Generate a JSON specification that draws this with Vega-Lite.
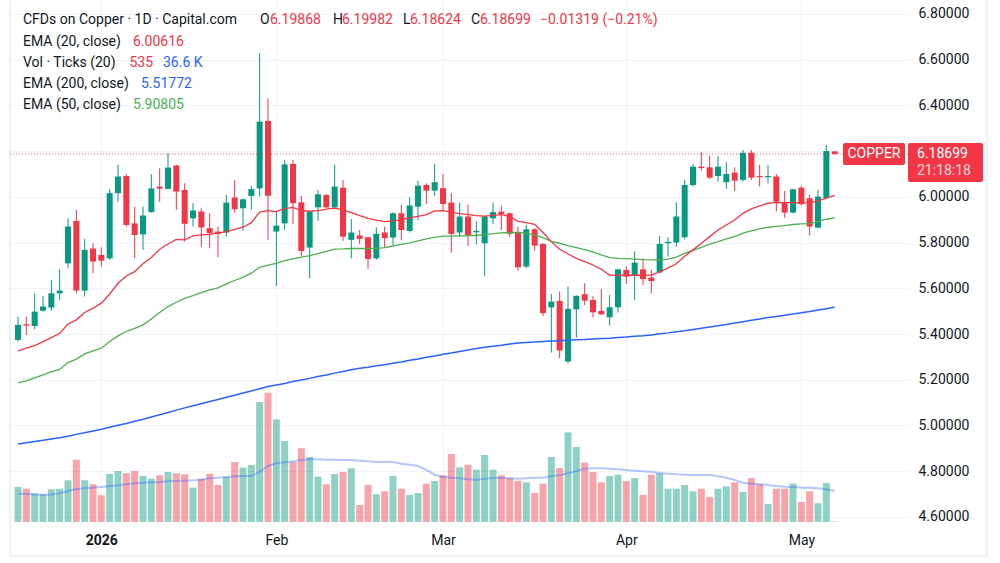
{
  "$schema": "https://vega.github.io/schema/vega-lite/v6.json",
  "width": 898,
  "height": 524,
  "autosize": "none",
  "padding": {"left": 10, "top": 0, "right": 92, "bottom": 39},
  "background": "#ffffff",
  "config": {"font": "Roboto", "view": {"stroke": null}},
  "datasets": {
    "candles": [
      {"i":0,"date":"2025-12-17","o":5.374,"h":5.476,"l":5.367,"c":5.440,"v":41300,"vm":33400,"e20":5.326,"e50":5.186,"e200":4.919},
      {"i":1,"date":"2025-12-18","o":5.443,"h":5.476,"l":5.396,"c":5.437,"v":39300,"vm":33000,"e20":5.338,"e50":5.195,"e200":4.924},
      {"i":2,"date":"2025-12-19","o":5.435,"h":5.578,"l":5.421,"c":5.498,"v":33900,"vm":32300,"e20":5.349,"e50":5.208,"e200":4.930},
      {"i":3,"date":"2025-12-22","o":5.502,"h":5.567,"l":5.498,"c":5.520,"v":32700,"vm":31900,"e20":5.367,"e50":5.221,"e200":4.935},
      {"i":4,"date":"2025-12-23","o":5.516,"h":5.637,"l":5.502,"c":5.578,"v":38600,"vm":32300,"e20":5.384,"e50":5.234,"e200":4.941},
      {"i":5,"date":"2025-12-24","o":5.578,"h":5.683,"l":5.549,"c":5.590,"v":39300,"vm":33800,"e20":5.403,"e50":5.245,"e200":4.946},
      {"i":6,"date":"2025-12-26","o":5.709,"h":5.906,"l":5.688,"c":5.870,"v":49200,"vm":36600,"e20":5.444,"e50":5.275,"e200":4.953},
      {"i":7,"date":"2025-12-29","o":5.895,"h":5.943,"l":5.578,"c":5.590,"v":73500,"vm":38900,"e20":5.462,"e50":5.290,"e200":4.961},
      {"i":8,"date":"2025-12-30","o":5.590,"h":5.816,"l":5.564,"c":5.768,"v":49200,"vm":39700,"e20":5.494,"e50":5.313,"e200":4.968},
      {"i":9,"date":"2025-12-31","o":5.774,"h":5.797,"l":5.666,"c":5.717,"v":44500,"vm":40500,"e20":5.513,"e50":5.326,"e200":4.976},
      {"i":10,"date":"2026-01-02","o":5.746,"h":5.779,"l":5.695,"c":5.721,"v":31500,"vm":41300,"e20":5.535,"e50":5.338,"e200":4.983},
      {"i":11,"date":"2026-01-05","o":5.731,"h":6.033,"l":5.724,"c":6.016,"v":56600,"vm":42500,"e20":5.575,"e50":5.367,"e200":4.992},
      {"i":12,"date":"2026-01-06","o":6.016,"h":6.140,"l":5.979,"c":6.089,"v":60200,"vm":43300,"e20":5.622,"e50":5.392,"e200":5.001},
      {"i":13,"date":"2026-01-07","o":6.091,"h":6.099,"l":5.870,"c":5.877,"v":57500,"vm":44400,"e20":5.654,"e50":5.411,"e200":5.009},
      {"i":14,"date":"2026-01-08","o":5.884,"h":5.957,"l":5.731,"c":5.833,"v":60200,"vm":45600,"e20":5.673,"e50":5.425,"e200":5.018},
      {"i":15,"date":"2026-01-09","o":5.836,"h":5.957,"l":5.768,"c":5.918,"v":54300,"vm":46400,"e20":5.707,"e50":5.440,"e200":5.027},
      {"i":16,"date":"2026-01-12","o":5.933,"h":6.099,"l":5.931,"c":6.037,"v":51100,"vm":46800,"e20":5.735,"e50":5.466,"e200":5.037},
      {"i":17,"date":"2026-01-13","o":6.045,"h":6.125,"l":5.979,"c":6.036,"v":55100,"vm":47200,"e20":5.771,"e50":5.494,"e200":5.047},
      {"i":18,"date":"2026-01-14","o":6.035,"h":6.191,"l":6.033,"c":6.128,"v":59000,"vm":48000,"e20":5.794,"e50":5.520,"e200":5.057},
      {"i":19,"date":"2026-01-15","o":6.137,"h":6.140,"l":5.943,"c":6.023,"v":57500,"vm":48400,"e20":5.814,"e50":5.539,"e200":5.067},
      {"i":20,"date":"2026-01-16","o":6.030,"h":6.059,"l":5.804,"c":5.882,"v":56300,"vm":48800,"e20":5.812,"e50":5.556,"e200":5.077},
      {"i":21,"date":"2026-01-19","o":5.906,"h":5.972,"l":5.870,"c":5.940,"v":40500,"vm":49200,"e20":5.829,"e50":5.568,"e200":5.086},
      {"i":22,"date":"2026-01-20","o":5.936,"h":5.950,"l":5.782,"c":5.866,"v":51100,"vm":49900,"e20":5.834,"e50":5.581,"e200":5.095},
      {"i":23,"date":"2026-01-21","o":5.863,"h":5.928,"l":5.775,"c":5.841,"v":57000,"vm":51500,"e20":5.836,"e50":5.593,"e200":5.105},
      {"i":24,"date":"2026-01-22","o":5.848,"h":5.870,"l":5.736,"c":5.838,"v":43700,"vm":52300,"e20":5.841,"e50":5.602,"e200":5.114},
      {"i":25,"date":"2026-01-23","o":5.844,"h":6.008,"l":5.826,"c":5.975,"v":53100,"vm":53100,"e20":5.848,"e50":5.619,"e200":5.123},
      {"i":26,"date":"2026-01-26","o":5.997,"h":6.074,"l":5.931,"c":5.946,"v":70800,"vm":53900,"e20":5.858,"e50":5.634,"e200":5.132},
      {"i":27,"date":"2026-01-27","o":5.950,"h":5.994,"l":5.852,"c":5.989,"v":64100,"vm":54300,"e20":5.867,"e50":5.648,"e200":5.142},
      {"i":28,"date":"2026-01-28","o":6.004,"h":6.048,"l":5.943,"c":6.034,"v":67300,"vm":54300,"e20":5.887,"e50":5.666,"e200":5.151},
      {"i":29,"date":"2026-01-29","o":6.037,"h":6.628,"l":6.001,"c":6.329,"v":141600,"vm":59000,"e20":5.933,"e50":5.692,"e200":5.161},
      {"i":30,"date":"2026-01-30","o":6.332,"h":6.431,"l":5.812,"c":6.005,"v":152600,"vm":66100,"e20":5.940,"e50":5.701,"e200":5.170},
      {"i":31,"date":"2026-02-02","o":5.848,"h":5.936,"l":5.610,"c":5.874,"v":121200,"vm":69200,"e20":5.935,"e50":5.709,"e200":5.177},
      {"i":32,"date":"2026-02-03","o":5.884,"h":6.161,"l":5.855,"c":6.142,"v":95600,"vm":70400,"e20":5.948,"e50":5.721,"e200":5.184},
      {"i":33,"date":"2026-02-04","o":6.144,"h":6.161,"l":5.881,"c":5.972,"v":70800,"vm":71600,"e20":5.954,"e50":5.729,"e200":5.192},
      {"i":34,"date":"2026-02-05","o":5.976,"h":6.004,"l":5.742,"c":5.763,"v":87000,"vm":73200,"e20":5.940,"e50":5.736,"e200":5.199},
      {"i":35,"date":"2026-02-06","o":5.778,"h":5.938,"l":5.644,"c":5.935,"v":76700,"vm":73900,"e20":5.937,"e50":5.743,"e200":5.206},
      {"i":36,"date":"2026-02-09","o":5.954,"h":6.030,"l":5.895,"c":6.011,"v":53500,"vm":73900,"e20":5.940,"e50":5.752,"e200":5.214},
      {"i":37,"date":"2026-02-10","o":6.008,"h":6.013,"l":5.950,"c":5.954,"v":44500,"vm":73500,"e20":5.946,"e50":5.761,"e200":5.221},
      {"i":38,"date":"2026-02-11","o":5.954,"h":6.140,"l":5.946,"c":6.045,"v":56600,"vm":73500,"e20":5.951,"e50":5.771,"e200":5.229},
      {"i":39,"date":"2026-02-12","o":6.040,"h":6.074,"l":5.807,"c":5.826,"v":59000,"vm":73200,"e20":5.943,"e50":5.772,"e200":5.236},
      {"i":40,"date":"2026-02-13","o":5.812,"h":5.903,"l":5.731,"c":5.844,"v":63400,"vm":73200,"e20":5.931,"e50":5.774,"e200":5.244},
      {"i":41,"date":"2026-02-16","o":5.831,"h":5.855,"l":5.794,"c":5.816,"v":20100,"vm":72400,"e20":5.918,"e50":5.774,"e200":5.250},
      {"i":42,"date":"2026-02-17","o":5.823,"h":5.826,"l":5.685,"c":5.728,"v":43700,"vm":71600,"e20":5.906,"e50":5.774,"e200":5.255},
      {"i":43,"date":"2026-02-18","o":5.731,"h":5.867,"l":5.724,"c":5.838,"v":32700,"vm":70800,"e20":5.898,"e50":5.775,"e200":5.261},
      {"i":44,"date":"2026-02-19","o":5.844,"h":5.870,"l":5.779,"c":5.819,"v":36200,"vm":70800,"e20":5.892,"e50":5.778,"e200":5.266},
      {"i":45,"date":"2026-02-20","o":5.822,"h":5.933,"l":5.790,"c":5.928,"v":54300,"vm":70800,"e20":5.895,"e50":5.785,"e200":5.272},
      {"i":46,"date":"2026-02-23","o":5.928,"h":5.965,"l":5.812,"c":5.855,"v":39300,"vm":68800,"e20":5.899,"e50":5.792,"e200":5.278},
      {"i":47,"date":"2026-02-24","o":5.851,"h":5.998,"l":5.844,"c":5.962,"v":31900,"vm":67600,"e20":5.908,"e50":5.799,"e200":5.285},
      {"i":48,"date":"2026-02-25","o":5.957,"h":6.070,"l":5.899,"c":6.049,"v":34200,"vm":66100,"e20":5.915,"e50":5.807,"e200":5.291},
      {"i":49,"date":"2026-02-26","o":6.052,"h":6.059,"l":5.969,"c":6.027,"v":45200,"vm":61400,"e20":5.922,"e50":5.816,"e200":5.298},
      {"i":50,"date":"2026-02-27","o":6.027,"h":6.144,"l":6.004,"c":6.064,"v":48400,"vm":55800,"e20":5.938,"e50":5.823,"e200":5.304},
      {"i":51,"date":"2026-03-02","o":6.038,"h":6.100,"l":5.936,"c":5.969,"v":55100,"vm":53100,"e20":5.940,"e50":5.828,"e200":5.311},
      {"i":52,"date":"2026-03-03","o":5.975,"h":6.016,"l":5.756,"c":5.838,"v":80200,"vm":52300,"e20":5.933,"e50":5.828,"e200":5.317},
      {"i":53,"date":"2026-03-04","o":5.844,"h":5.975,"l":5.826,"c":5.914,"v":64500,"vm":51500,"e20":5.927,"e50":5.829,"e200":5.324},
      {"i":54,"date":"2026-03-05","o":5.914,"h":5.965,"l":5.785,"c":5.833,"v":67600,"vm":50300,"e20":5.922,"e50":5.829,"e200":5.330},
      {"i":55,"date":"2026-03-06","o":5.845,"h":5.892,"l":5.792,"c":5.851,"v":61700,"vm":49900,"e20":5.918,"e50":5.832,"e200":5.337},
      {"i":56,"date":"2026-03-09","o":5.797,"h":5.916,"l":5.654,"c":5.914,"v":79100,"vm":51100,"e20":5.916,"e50":5.835,"e200":5.342},
      {"i":57,"date":"2026-03-10","o":5.906,"h":5.975,"l":5.880,"c":5.933,"v":61700,"vm":51900,"e20":5.919,"e50":5.839,"e200":5.347},
      {"i":58,"date":"2026-03-11","o":5.935,"h":5.962,"l":5.855,"c":5.925,"v":55100,"vm":51900,"e20":5.922,"e50":5.842,"e200":5.351},
      {"i":59,"date":"2026-03-12","o":5.928,"h":5.931,"l":5.826,"c":5.838,"v":51900,"vm":51500,"e20":5.914,"e50":5.844,"e200":5.356},
      {"i":60,"date":"2026-03-13","o":5.845,"h":5.870,"l":5.677,"c":5.692,"v":48400,"vm":51100,"e20":5.893,"e50":5.844,"e200":5.361},
      {"i":61,"date":"2026-03-16","o":5.695,"h":5.877,"l":5.688,"c":5.858,"v":46800,"vm":51500,"e20":5.887,"e50":5.841,"e200":5.363},
      {"i":62,"date":"2026-03-17","o":5.858,"h":5.863,"l":5.765,"c":5.787,"v":34200,"vm":52300,"e20":5.880,"e50":5.833,"e200":5.365},
      {"i":63,"date":"2026-03-18","o":5.794,"h":5.797,"l":5.479,"c":5.491,"v":45200,"vm":52300,"e20":5.844,"e50":5.822,"e200":5.367},
      {"i":64,"date":"2026-03-19","o":5.516,"h":5.575,"l":5.319,"c":5.542,"v":76700,"vm":54300,"e20":5.804,"e50":5.805,"e200":5.369},
      {"i":65,"date":"2026-03-20","o":5.545,"h":5.586,"l":5.294,"c":5.328,"v":63700,"vm":55100,"e20":5.771,"e50":5.797,"e200":5.371},
      {"i":66,"date":"2026-03-23","o":5.280,"h":5.607,"l":5.272,"c":5.510,"v":105800,"vm":57400,"e20":5.750,"e50":5.787,"e200":5.373},
      {"i":67,"date":"2026-03-24","o":5.508,"h":5.569,"l":5.384,"c":5.567,"v":88500,"vm":60200,"e20":5.731,"e50":5.778,"e200":5.375},
      {"i":68,"date":"2026-03-25","o":5.574,"h":5.622,"l":5.527,"c":5.546,"v":70000,"vm":62900,"e20":5.717,"e50":5.769,"e200":5.376},
      {"i":69,"date":"2026-03-26","o":5.549,"h":5.567,"l":5.473,"c":5.495,"v":59000,"vm":63300,"e20":5.702,"e50":5.759,"e200":5.378},
      {"i":70,"date":"2026-03-27","o":5.501,"h":5.596,"l":5.484,"c":5.486,"v":46800,"vm":63300,"e20":5.683,"e50":5.746,"e200":5.380},
      {"i":71,"date":"2026-03-30","o":5.473,"h":5.571,"l":5.437,"c":5.517,"v":54300,"vm":62900,"e20":5.658,"e50":5.734,"e200":5.382},
      {"i":72,"date":"2026-03-31","o":5.517,"h":5.685,"l":5.494,"c":5.683,"v":55800,"vm":62100,"e20":5.657,"e50":5.731,"e200":5.385},
      {"i":73,"date":"2026-04-01","o":5.680,"h":5.695,"l":5.619,"c":5.651,"v":48400,"vm":61400,"e20":5.657,"e50":5.730,"e200":5.387},
      {"i":74,"date":"2026-04-02","o":5.654,"h":5.761,"l":5.549,"c":5.712,"v":51900,"vm":60600,"e20":5.658,"e50":5.728,"e200":5.390},
      {"i":75,"date":"2026-04-06","o":5.683,"h":5.731,"l":5.615,"c":5.640,"v":31900,"vm":59800,"e20":5.657,"e50":5.725,"e200":5.392},
      {"i":76,"date":"2026-04-07","o":5.647,"h":5.680,"l":5.578,"c":5.632,"v":55800,"vm":59000,"e20":5.658,"e50":5.724,"e200":5.396},
      {"i":77,"date":"2026-04-08","o":5.669,"h":5.829,"l":5.667,"c":5.794,"v":57500,"vm":57800,"e20":5.672,"e50":5.724,"e200":5.401},
      {"i":78,"date":"2026-04-09","o":5.797,"h":5.823,"l":5.739,"c":5.803,"v":39300,"vm":57000,"e20":5.689,"e50":5.728,"e200":5.405},
      {"i":79,"date":"2026-04-10","o":5.800,"h":5.976,"l":5.782,"c":5.914,"v":39300,"vm":56200,"e20":5.707,"e50":5.736,"e200":5.410},
      {"i":80,"date":"2026-04-13","o":5.823,"h":6.074,"l":5.814,"c":6.052,"v":43700,"vm":55800,"e20":5.740,"e50":5.753,"e200":5.414},
      {"i":81,"date":"2026-04-14","o":6.052,"h":6.144,"l":6.045,"c":6.132,"v":36200,"vm":55500,"e20":5.768,"e50":5.766,"e200":5.420},
      {"i":82,"date":"2026-04-15","o":6.132,"h":6.195,"l":6.115,"c":6.126,"v":39300,"vm":55500,"e20":5.797,"e50":5.779,"e200":5.425},
      {"i":83,"date":"2026-04-16","o":6.129,"h":6.180,"l":6.078,"c":6.084,"v":29500,"vm":55500,"e20":5.826,"e50":5.793,"e200":5.431},
      {"i":84,"date":"2026-04-17","o":6.091,"h":6.179,"l":6.067,"c":6.132,"v":39300,"vm":53900,"e20":5.855,"e50":5.804,"e200":5.436},
      {"i":85,"date":"2026-04-20","o":6.064,"h":6.151,"l":6.035,"c":6.100,"v":42100,"vm":52300,"e20":5.877,"e50":5.816,"e200":5.442},
      {"i":86,"date":"2026-04-21","o":6.106,"h":6.129,"l":6.026,"c":6.071,"v":46800,"vm":49600,"e20":5.899,"e50":5.826,"e200":5.448},
      {"i":87,"date":"2026-04-22","o":6.074,"h":6.205,"l":6.067,"c":6.193,"v":35400,"vm":46400,"e20":5.928,"e50":5.841,"e200":5.454},
      {"i":88,"date":"2026-04-23","o":6.193,"h":6.205,"l":6.074,"c":6.084,"v":51900,"vm":45200,"e20":5.947,"e50":5.851,"e200":5.460},
      {"i":89,"date":"2026-04-24","o":6.091,"h":6.140,"l":6.045,"c":6.086,"v":44500,"vm":44400,"e20":5.960,"e50":5.860,"e200":5.466},
      {"i":90,"date":"2026-04-27","o":6.086,"h":6.140,"l":6.059,"c":6.091,"v":21200,"vm":43700,"e20":5.972,"e50":5.867,"e200":5.472},
      {"i":91,"date":"2026-04-28","o":6.089,"h":6.100,"l":5.936,"c":5.979,"v":39300,"vm":42500,"e20":5.976,"e50":5.871,"e200":5.477},
      {"i":92,"date":"2026-04-29","o":5.976,"h":6.026,"l":5.909,"c":5.931,"v":39300,"vm":41700,"e20":5.975,"e50":5.874,"e200":5.482},
      {"i":93,"date":"2026-04-30","o":5.931,"h":6.035,"l":5.928,"c":6.033,"v":45200,"vm":41300,"e20":5.975,"e50":5.879,"e200":5.488},
      {"i":94,"date":"2026-05-01","o":6.040,"h":6.049,"l":5.962,"c":5.968,"v":23600,"vm":40500,"e20":5.973,"e50":5.882,"e200":5.493},
      {"i":95,"date":"2026-05-04","o":5.994,"h":6.008,"l":5.831,"c":5.870,"v":36200,"vm":40500,"e20":5.975,"e50":5.883,"e200":5.498},
      {"i":96,"date":"2026-05-05","o":5.865,"h":6.030,"l":5.863,"c":6.001,"v":22100,"vm":39700,"e20":5.982,"e50":5.892,"e200":5.505},
      {"i":97,"date":"2026-05-06","o":5.995,"h":6.227,"l":5.992,"c":6.20018,"v":46000,"vm":38500,"e20":5.994,"e50":5.902,"e200":5.511},
      {"i":98,"date":"2026-05-07","o":6.19868,"h":6.19982,"l":6.18624,"c":6.18699,"v":535,"vm":36600,"e20":6.00616,"e50":5.90805,"e200":5.51772}
    ]
  },
  "data": {"name": "candles"},
  "layer": [
    {
      "layer": [
        {
          "mark": {"type": "bar", "width": 7, "fillOpacity": 0.45},
          "encoding": {
            "x": {"field": "i", "type": "quantitative"},
            "y": {"field": "v", "type": "quantitative", "scale": {"domain": [-2400, 616200], "nice": false, "zero": false, "padding": 0}, "axis": null},
            "y2": {"datum": 0},
            "color": {"condition": {"test": "datum.c >= datum.o", "value": "#089981"}, "value": "#F23645"}
          }
        },
        {
          "mark": {"type": "line", "color": "#2962FF", "strokeWidth": 2, "opacity": 0.35},
          "encoding": {
            "x": {"field": "i", "type": "quantitative"},
            "y": {"field": "vm", "type": "quantitative", "axis": null}
          }
        }
      ]
    },
    {
      "layer": [
        {
          "mark": {"type": "rule", "strokeWidth": 1},
          "encoding": {
            "x": {
              "field": "i", "type": "quantitative",
              "scale": {"domain": [-0.96, 106.8], "nice": false, "zero": false, "padding": 0},
              "axis": {
                "values": [10, 31, 51, 73, 94],
                "labelExpr": "datum.value == 10 ? '2026' : datum.value == 31 ? 'Feb' : datum.value == 51 ? 'Mar' : datum.value == 73 ? 'Apr' : 'May'",
                "title": null, "grid": true, "gridColor": "#f0f3fa", "domain": false, "ticks": false,
                "labelFontSize": 14, "labelColor": "#131722", "labelPadding": 9,
                "labelFontWeight": {"condition": {"test": "datum.value == 10", "value": "bold"}, "value": "normal"}
              }
            },
            "y": {
              "field": "l", "type": "quantitative",
              "scale": {"domain": [4.569, 6.861], "nice": false, "zero": false, "padding": 0},
              "axis": {
                "orient": "right", "values": [4.6, 4.8, 5.0, 5.2, 5.4, 5.6, 5.8, 6.0, 6.2, 6.4, 6.6, 6.8],
                "labelExpr": "abs(datum.value - 6.2) < 0.001 ? '' : format(datum.value, '.5f')",
                "title": null, "grid": true, "gridColor": "#f0f3fa", "domain": false, "ticks": false,
                "labelFontSize": 14, "labelColor": "#131722", "labelPadding": 10
              }
            },
            "y2": {"field": "h"},
            "color": {"condition": {"test": "datum.c >= datum.o", "value": "#089981"}, "value": "#F23645"}
          }
        },
        {
          "mark": {"type": "bar", "width": 6},
          "encoding": {
            "x": {"field": "i", "type": "quantitative"},
            "y": {"field": "o", "type": "quantitative"},
            "y2": {"field": "c"},
            "color": {"condition": {"test": "datum.c >= datum.o", "value": "#089981"}, "value": "#F23645"}
          }
        },
        {
          "mark": {"type": "line", "color": "#2962FF", "strokeWidth": 1.5},
          "encoding": {"x": {"field": "i", "type": "quantitative"}, "y": {"field": "e200", "type": "quantitative"}}
        },
        {
          "mark": {"type": "line", "color": "#4CAF50", "strokeWidth": 1.3},
          "encoding": {"x": {"field": "i", "type": "quantitative"}, "y": {"field": "e50", "type": "quantitative"}}
        },
        {
          "mark": {"type": "line", "color": "#F23645", "strokeWidth": 1.3},
          "encoding": {"x": {"field": "i", "type": "quantitative"}, "y": {"field": "e20", "type": "quantitative"}}
        },
        {
          "transform": [{"filter": "datum.i == 98"}],
          "mark": {"type": "rule", "color": "#F23645", "strokeDash": [1, 2], "strokeWidth": 1, "opacity": 0.8},
          "encoding": {"y": {"field": "c", "type": "quantitative"}}
        },
        {
          "transform": [{"filter": "datum.i == 98"}],
          "mark": {"type": "bar", "color": "#F23645", "cornerRadius": 2},
          "encoding": {
            "x": {"datum": 99.0, "type": "quantitative"},
            "x2": {"datum": 106.44},
            "y": {"datum": 6.2355, "type": "quantitative"},
            "y2": {"datum": 6.1393}
          }
        },
        {
          "transform": [{"filter": "datum.i == 98"}],
          "mark": {"type": "text", "text": "COPPER", "color": "#ffffff", "fontSize": 14, "align": "center", "baseline": "middle"},
          "encoding": {"x": {"datum": 102.72, "type": "quantitative"}, "y": {"field": "c", "type": "quantitative"}}
        },
        {
          "transform": [{"filter": "datum.i == 98"}],
          "mark": {"type": "bar", "color": "#F23645", "cornerRadius": 2},
          "encoding": {
            "x": {"datum": 106.8, "type": "quantitative"},
            "x2": {"datum": 115.8},
            "y": {"datum": 6.2355, "type": "quantitative"},
            "y2": {"datum": 6.0649}
          }
        },
        {
          "transform": [{"filter": "datum.i == 98"}],
          "mark": {"type": "text", "color": "#ffffff", "fontSize": 14, "align": "left", "baseline": "middle"},
          "encoding": {"x": {"datum": 107.88, "type": "quantitative"}, "y": {"field": "c", "type": "quantitative"}, "text": {"field": "c", "format": ".5f"}}
        },
        {
          "transform": [{"filter": "datum.i == 98"}],
          "mark": {"type": "text", "text": "21:18:18", "color": "#ffffff", "opacity": 0.8, "fontSize": 14, "align": "left", "baseline": "middle"},
          "encoding": {"x": {"datum": 107.88, "type": "quantitative"}, "y": {"datum": 6.1143, "type": "quantitative"}}
        },
        {
          "transform": [{"filter": "datum.i == 98"}],
          "mark": {"type": "text", "text": "CFDs on Copper · 1D · Capital.com", "color": "#131722", "fontSize": 14, "align": "left", "baseline": "middle"},
          "encoding": {"x": {"datum": 0.6, "type": "quantitative"}, "y": {"datum": 6.7735, "type": "quantitative"}}
        },
        {
          "transform": [{"filter": "datum.i == 98"}],
          "mark": {"type": "text", "text": "O", "color": "#131722", "fontSize": 14, "align": "left", "baseline": "middle"},
          "encoding": {"x": {"datum": 29.04, "type": "quantitative"}, "y": {"datum": 6.7735, "type": "quantitative"}}
        },
        {
          "transform": [{"filter": "datum.i == 98"}],
          "mark": {"type": "text", "color": "#F23645", "fontSize": 14, "align": "left", "baseline": "middle"},
          "encoding": {"x": {"datum": 30.24, "type": "quantitative"}, "y": {"datum": 6.7735, "type": "quantitative"}, "text": {"field": "o", "format": ".5f"}}
        },
        {
          "transform": [{"filter": "datum.i == 98"}],
          "mark": {"type": "text", "text": "H", "color": "#131722", "fontSize": 14, "align": "left", "baseline": "middle"},
          "encoding": {"x": {"datum": 37.8, "type": "quantitative"}, "y": {"datum": 6.7735, "type": "quantitative"}}
        },
        {
          "transform": [{"filter": "datum.i == 98"}],
          "mark": {"type": "text", "color": "#F23645", "fontSize": 14, "align": "left", "baseline": "middle"},
          "encoding": {"x": {"datum": 38.88, "type": "quantitative"}, "y": {"datum": 6.7735, "type": "quantitative"}, "text": {"field": "h", "format": ".5f"}}
        },
        {
          "transform": [{"filter": "datum.i == 98"}],
          "mark": {"type": "text", "text": "L", "color": "#131722", "fontSize": 14, "align": "left", "baseline": "middle"},
          "encoding": {"x": {"datum": 46.2, "type": "quantitative"}, "y": {"datum": 6.7735, "type": "quantitative"}}
        },
        {
          "transform": [{"filter": "datum.i == 98"}],
          "mark": {"type": "text", "color": "#F23645", "fontSize": 14, "align": "left", "baseline": "middle"},
          "encoding": {"x": {"datum": 47.04, "type": "quantitative"}, "y": {"datum": 6.7735, "type": "quantitative"}, "text": {"field": "l", "format": ".5f"}}
        },
        {
          "transform": [{"filter": "datum.i == 98"}],
          "mark": {"type": "text", "text": "C", "color": "#131722", "fontSize": 14, "align": "left", "baseline": "middle"},
          "encoding": {"x": {"datum": 54.36, "type": "quantitative"}, "y": {"datum": 6.7735, "type": "quantitative"}}
        },
        {
          "transform": [{"filter": "datum.i == 98"}],
          "mark": {"type": "text", "color": "#F23645", "fontSize": 14, "align": "left", "baseline": "middle"},
          "encoding": {"x": {"datum": 55.44, "type": "quantitative"}, "y": {"datum": 6.7735, "type": "quantitative"}, "text": {"field": "c", "format": ".5f"}}
        },
        {
          "transform": [{"filter": "datum.i == 98"}],
          "mark": {"type": "text", "text": "−0.01319 (−0.21%)", "color": "#F23645", "fontSize": 14, "align": "left", "baseline": "middle"},
          "encoding": {"x": {"datum": 62.64, "type": "quantitative"}, "y": {"datum": 6.7735, "type": "quantitative"}}
        },
        {
          "transform": [{"filter": "datum.i == 98"}],
          "mark": {"type": "text", "text": "EMA (20, close)", "color": "#131722", "fontSize": 14, "align": "left", "baseline": "middle"},
          "encoding": {"x": {"datum": 0.6, "type": "quantitative"}, "y": {"datum": 6.6773, "type": "quantitative"}}
        },
        {
          "transform": [{"filter": "datum.i == 98"}],
          "mark": {"type": "text", "color": "#F23645", "fontSize": 14, "align": "left", "baseline": "middle"},
          "encoding": {"x": {"datum": 13.8, "type": "quantitative"}, "y": {"datum": 6.6773, "type": "quantitative"}, "text": {"field": "e20", "format": ".5f"}}
        },
        {
          "transform": [{"filter": "datum.i == 98"}],
          "mark": {"type": "text", "text": "Vol · Ticks (20)", "color": "#131722", "fontSize": 14, "align": "left", "baseline": "middle"},
          "encoding": {"x": {"datum": 0.6, "type": "quantitative"}, "y": {"datum": 6.5854, "type": "quantitative"}}
        },
        {
          "transform": [{"filter": "datum.i == 98"}],
          "mark": {"type": "text", "color": "#F23645", "fontSize": 14, "align": "left", "baseline": "middle"},
          "encoding": {"x": {"datum": 13.38, "type": "quantitative"}, "y": {"datum": 6.5854, "type": "quantitative"}, "text": {"field": "v", "format": "d"}}
        },
        {
          "transform": [{"filter": "datum.i == 98"}, {"calculate": "format(datum.vm / 1000, '.1f') + ' K'", "as": "vmLabel"}],
          "mark": {"type": "text", "color": "#2962FF", "fontSize": 14, "align": "left", "baseline": "middle"},
          "encoding": {"x": {"datum": 17.4, "type": "quantitative"}, "y": {"datum": 6.5854, "type": "quantitative"}, "text": {"field": "vmLabel"}}
        },
        {
          "transform": [{"filter": "datum.i == 98"}],
          "mark": {"type": "text", "text": "EMA (200, close)", "color": "#131722", "fontSize": 14, "align": "left", "baseline": "middle"},
          "encoding": {"x": {"datum": 0.6, "type": "quantitative"}, "y": {"datum": 6.4936, "type": "quantitative"}}
        },
        {
          "transform": [{"filter": "datum.i == 98"}],
          "mark": {"type": "text", "color": "#2962FF", "fontSize": 14, "align": "left", "baseline": "middle"},
          "encoding": {"x": {"datum": 14.76, "type": "quantitative"}, "y": {"datum": 6.4936, "type": "quantitative"}, "text": {"field": "e200", "format": ".5f"}}
        },
        {
          "transform": [{"filter": "datum.i == 98"}],
          "mark": {"type": "text", "text": "EMA (50, close)", "color": "#131722", "fontSize": 14, "align": "left", "baseline": "middle"},
          "encoding": {"x": {"datum": 0.6, "type": "quantitative"}, "y": {"datum": 6.4017, "type": "quantitative"}}
        },
        {
          "transform": [{"filter": "datum.i == 98"}],
          "mark": {"type": "text", "color": "#4CAF50", "fontSize": 14, "align": "left", "baseline": "middle"},
          "encoding": {"x": {"datum": 13.8, "type": "quantitative"}, "y": {"datum": 6.4017, "type": "quantitative"}, "text": {"field": "e50", "format": ".5f"}}
        },
        {
          "transform": [{"filter": "datum.i == 98"}],
          "mark": {"type": "rule", "color": "#e0e3eb", "strokeWidth": 1},
          "encoding": {"x": {"datum": -0.96, "type": "quantitative"}, "y": {"datum": 6.861, "type": "quantitative"}, "y2": {"datum": 4.429}}
        },
        {
          "transform": [{"filter": "datum.i == 98"}],
          "mark": {"type": "rule", "color": "#e0e3eb", "strokeWidth": 1},
          "encoding": {"x": {"datum": 116.28, "type": "quantitative"}, "y": {"datum": 6.861, "type": "quantitative"}, "y2": {"datum": 4.429}}
        },
        {
          "transform": [{"filter": "datum.i == 98"}],
          "mark": {"type": "rule", "color": "#e0e3eb", "strokeWidth": 1},
          "encoding": {"x": {"datum": -0.96, "type": "quantitative"}, "x2": {"datum": 116.28}, "y": {"datum": 4.429, "type": "quantitative"}}
        }
      ]
    }
  ],
  "resolve": {"scale": {"y": "independent"}}
}
